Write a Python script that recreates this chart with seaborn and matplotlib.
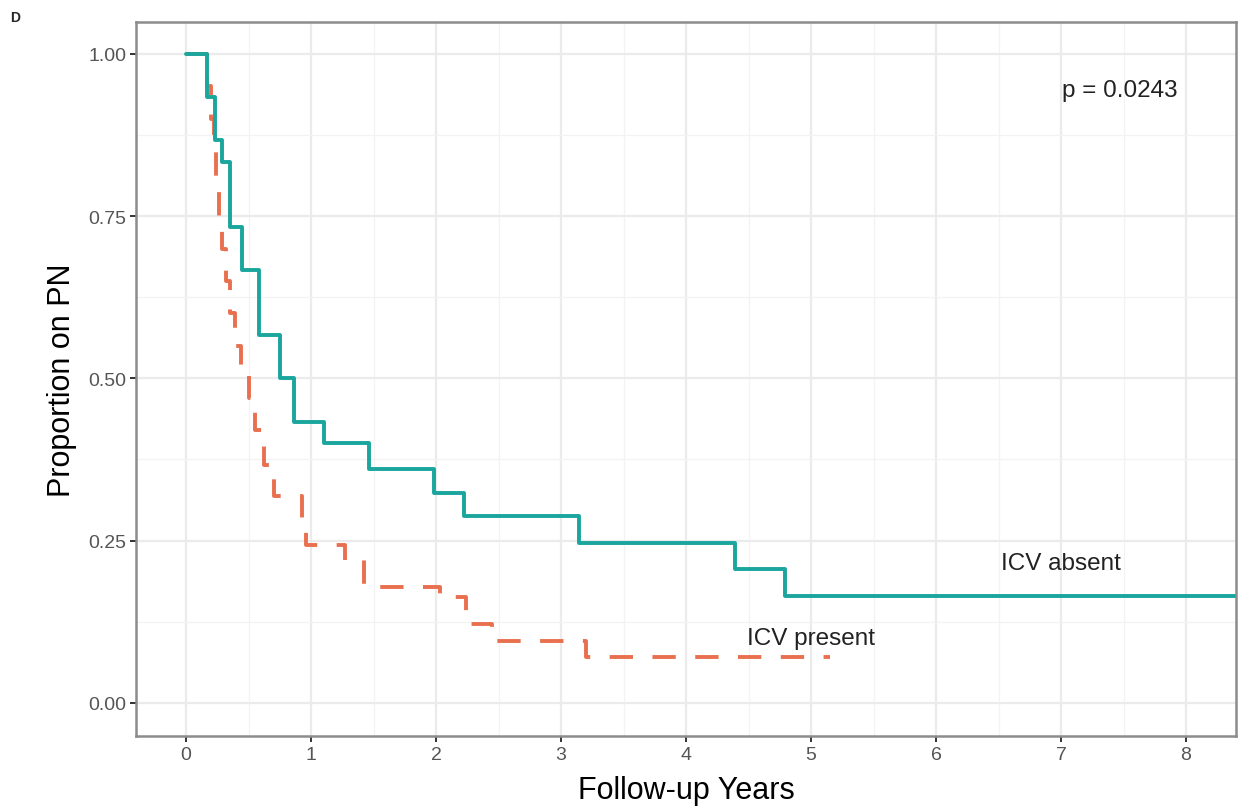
import numpy as np
import pandas as pd
import matplotlib
matplotlib.use("Agg")
import matplotlib.pyplot as plt
import seaborn as sns

sns.set_theme(style="white")
plt.rcParams['font.family'] = ['Liberation Sans', 'DejaVu Sans']

# Kaplan-Meier step curves
absent_time = [0.00, 0.17, 0.23, 0.29, 0.35, 0.45, 0.58, 0.75, 0.86, 1.10,
               1.46, 1.98, 2.22, 3.14, 4.39, 4.79, 8.40]
absent_surv = [1.000, 0.933, 0.867, 0.833, 0.733, 0.667, 0.567, 0.500, 0.433, 0.400,
               0.361, 0.324, 0.288, 0.247, 0.206, 0.165, 0.165]

present_time = [0.00, 0.17, 0.20, 0.22, 0.24, 0.26, 0.29, 0.32, 0.35, 0.39, 0.44,
                0.50, 0.55, 0.62, 0.70, 0.93, 0.96, 1.27, 1.42, 2.03, 2.24, 2.45,
                3.20, 5.15]
present_surv = [1.000, 0.950, 0.900, 0.850, 0.800, 0.750, 0.700, 0.650, 0.600, 0.550, 0.510,
                0.470, 0.420, 0.367, 0.318, 0.280, 0.244, 0.220, 0.179, 0.163, 0.122, 0.096,
                0.071, 0.071]

groups = ["ICV absent", "ICV present"]
colors = {"ICV absent": "#1AA59D", "ICV present": "#E8704F"}

df = pd.concat([
    pd.DataFrame({"time": absent_time, "surv": absent_surv, "group": groups[0]}),
    pd.DataFrame({"time": present_time, "surv": present_surv, "group": groups[1]}),
], ignore_index=True)

fig = plt.figure(figsize=(12.4, 8.12), dpi=100)
ax = fig.add_axes([136 / 1240, 1 - 737 / 812, 1100 / 1240, 714 / 812])

sns.lineplot(data=df, x="time", y="surv", hue="group", style="group",
             hue_order=groups[::-1], style_order=groups[::-1],
             palette=colors, dashes={"ICV absent": "", "ICV present": (6, 5)},
             drawstyle="steps-post", estimator=None, sort=False,
             linewidth=2.8, legend=False, ax=ax)

ax.set_xlim(-0.4, 8.4)
ax.set_ylim(-0.051, 1.049)
ax.set_xticks(np.arange(0, 9, 1))
ax.set_yticks([0, 0.25, 0.5, 0.75, 1.0])
ax.set_yticklabels(["0.00", "0.25", "0.50", "0.75", "1.00"])
ax.set_xticks(np.arange(0.5, 8.5, 1), minor=True)
ax.set_yticks([0.125, 0.375, 0.625, 0.875], minor=True)

ax.grid(which="major", color="#EBEBEB", linewidth=1.6)
ax.grid(which="minor", color="#F3F3F3", linewidth=0.9)
ax.set_axisbelow(True)
for s in ax.spines.values():
    s.set_color("#8C8C8C")
    s.set_linewidth(1.8)

ax.tick_params(which="major", length=4, width=1.4, color="#333333",
               labelsize=14, labelcolor="#555555", pad=3,
               bottom=True, left=True)
ax.tick_params(which="minor", length=0)

ax.set_xlabel("Follow-up Years", fontsize=22, color="black", labelpad=9)
ax.set_ylabel("Proportion on PN", fontsize=22, color="black", labelpad=8)

ax.text(7.0, 0.215, "ICV absent", fontsize=17.5, ha="center", va="center", color="#222222")
ax.text(5.0, 0.10, "ICV present", fontsize=17.5, ha="center", va="center", color="#222222")
ax.text(7.47, 0.945, "p = 0.0243", fontsize=17.5, ha="center", va="center", color="#222222")

fig.text(15 / 1240, 1 - 18 / 812, "D", fontsize=10, fontweight="bold", ha="center", va="center")

fig.savefig("out.png", dpi=100, facecolor="white")
